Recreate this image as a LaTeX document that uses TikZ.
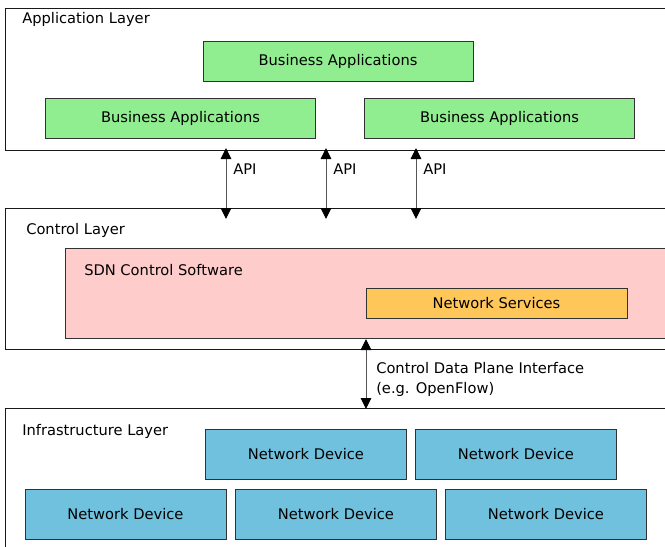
\documentclass[tikz,border=0pt]{standalone}
\usepackage{fontspec}
\setmainfont{DejaVu Sans}
\usetikzlibrary{arrows.meta,calc}
\definecolor{bagreen}{RGB}{144,238,144}
\definecolor{sdnpink}{RGB}{255,204,204}
\definecolor{nsorange}{RGB}{255,198,90}
\definecolor{ndblue}{RGB}{111,193,222}
\definecolor{boxline}{RGB}{50,50,50}
\definecolor{layerline}{RGB}{25,25,25}
\definecolor{arrline}{RGB}{85,85,85}
\begin{document}
\begin{tikzpicture}[x=0.75pt,y=-0.75pt,
  every node/.style={font=\fontsize{11pt}{13.5pt}\selectfont, text=black},
  layer/.style={draw=layerline, line width=0.75pt, fill=white, anchor=north west, inner sep=0pt},
  appbox/.style={draw=boxline, line width=0.75pt, fill=bagreen, minimum width=202.5pt, minimum height=30pt, inner sep=0pt},
  devbox/.style={draw=boxline, line width=0.75pt, fill=ndblue, minimum width=150.75pt, minimum height=37.5pt, inner sep=0pt},
  lbl/.style={anchor=west, inner sep=0pt},
  iface/.style={draw=arrline, line width=0.75pt,
    arrows={Triangle[length=8.25pt,width=8pt,color=black]-Triangle[length=8.25pt,width=8pt,color=black]}}]
\useasboundingbox (0,0) rectangle (665,547);
\clip (0,0) rectangle (665,547);
% layers
\node[layer, minimum width=506.25pt, minimum height=106.5pt] (app) at (5,8) {};
\node[layer, minimum width=506.25pt, minimum height=105.75pt] (ctrl) at (5,208) {};
\node[layer, minimum width=506.25pt, minimum height=114pt] (infra) at (5,408) {};
\node[lbl] (applbl) at (22,19.5) {Application Layer};
\node[lbl] (ctrllbl) at (26,230.5) {Control Layer};
\node[lbl] (infralbl) at (22,431.5) {Infrastructure Layer};
% application layer boxes
\node[appbox] (ba1) at (338,61) {\raisebox{-0.75pt}{Business Applications}};
\node[appbox] (ba2) at (180.5,118) {\raisebox{-0.75pt}{Business Applications}};
\node[appbox] (ba3) at (499.5,118) {\raisebox{-0.75pt}{Business Applications}};
% control layer
\node[draw=boxline, line width=0.75pt, fill=sdnpink, anchor=north west, inner sep=0pt,
  minimum width=461.25pt, minimum height=67.5pt] (sdn) at (65,248) {};
\node[lbl] (sdnlbl) at (84,270.5) {SDN Control Software};
\node[draw=boxline, line width=0.75pt, fill=nsorange, inner sep=0pt,
  minimum width=195.75pt, minimum height=22.5pt] (ns) at (496.5,303) {\raisebox{-0.75pt}{Network Services}};
% infrastructure devices
\node[devbox] (nd1) at (306,454) {\raisebox{-0.75pt}{Network Device}};
\node[devbox] (nd2) at (516,454) {\raisebox{-0.75pt}{Network Device}};
\node[devbox] (nd3) at (125.5,514) {\raisebox{-0.75pt}{Network Device}};
\node[devbox] (nd4) at (336,514) {\raisebox{-0.75pt}{Network Device}};
\node[devbox] (nd5) at (546,514) {\raisebox{-0.75pt}{Network Device}};
% API arrows
\coordinate (x1) at (226,0);
\coordinate (x2) at (326,0);
\coordinate (x3) at (416,0);
\coordinate (x4) at (366,0);
\foreach \c in {x1,x2,x3}{
  \draw[iface] ($(app.south -| \c)+(0,-3)$) -- ($(ctrl.north -| \c)+(0,11)$);
}
\node[lbl] (api1) at (233,169.5) {API};
\node[lbl] (api2) at (333,169.5) {API};
\node[lbl] (api3) at (423,169.5) {API};
% control data plane interface
\draw[iface] ($(sdn.south -| x4)+(0,0)$) -- ($(infra.north -| x4)+(0,1)$);
\node[lbl, align=left, font=\fontsize{11pt}{15pt}\selectfont] (cdpi) at (376,379.5)
  {Control Data Plane Interface\\(e.g. OpenFlow)};
\end{tikzpicture}
\end{document}
